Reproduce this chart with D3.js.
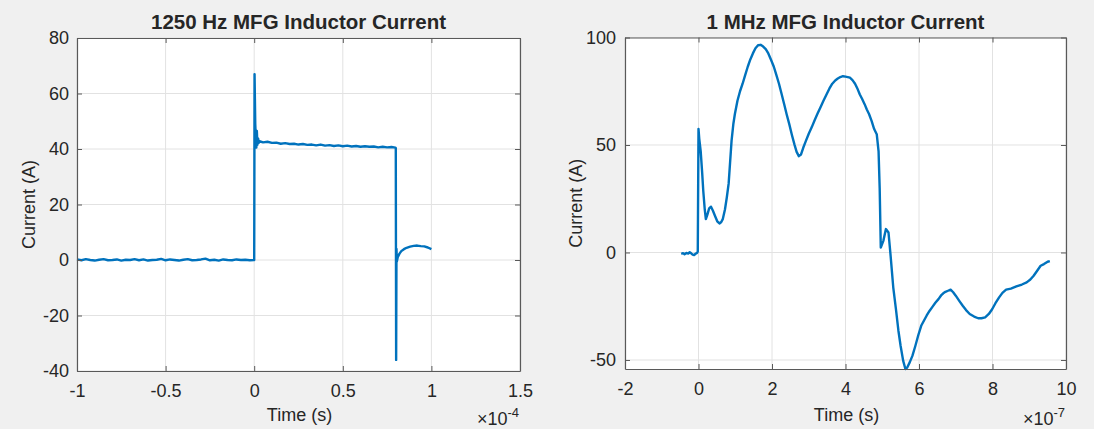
<!DOCTYPE html>
<html>
<head>
<meta charset="utf-8">
<script src="https://cdn.jsdelivr.net/npm/d3@7"></script>
<style>
  html, body { margin: 0; padding: 0; background: #f0f0f0; }
  text { font-family: "Liberation Sans", Arial, sans-serif; fill: #262626; }
</style>
</head>
<body>
<div id="chart"></div>
<script>
// left panel: time in units of 1e-4 s, current in A
const lowTime = [
  -1.000, -0.975, -0.950, -0.925, -0.900, -0.875, -0.850, -0.825, -0.800, -0.775,
  -0.750, -0.725, -0.700, -0.675, -0.650, -0.625, -0.600, -0.575, -0.550, -0.525,
  -0.500, -0.475, -0.450, -0.425, -0.400, -0.375, -0.350, -0.325, -0.300, -0.275,
  -0.250, -0.225, -0.200, -0.175, -0.150, -0.125, -0.100, -0.075, -0.050, -0.025, -0.002,
  0.000, 0.001, 0.002, 0.004, 0.006, 0.009, 0.012, 0.015, 0.018, 0.022, 0.026, 0.030,
  0.050, 0.075, 0.100, 0.125, 0.150, 0.175, 0.200, 0.225, 0.250, 0.275,
  0.300, 0.325, 0.350, 0.375, 0.400, 0.425, 0.450, 0.475, 0.500, 0.525,
  0.550, 0.575, 0.600, 0.625, 0.650, 0.675, 0.700, 0.725, 0.750, 0.775, 0.797,
  0.799, 0.801, 0.803, 0.805, 0.810, 0.820, 0.830, 0.845, 0.860, 0.880,
  0.900, 0.920, 0.940, 0.960, 0.980, 1.000
];
const lowCurrent = [
  0.2, -0.1, 0.3, 0.0, -0.2, 0.1, 0.3, -0.1, 0.0, 0.2,
  -0.2, 0.1, 0.0, 0.3, -0.1, 0.2, -0.2, 0.0, 0.1, 0.4,
  -0.1, 0.2, 0.0, -0.2, 0.1, 0.3, -0.1, 0.0, 0.2, 0.5,
  -0.1, 0.1, -0.2, 0.2, 0.0, -0.1, 0.2, 0.0, 0.1, -0.1, 0.0,
  0.0, 30.0, 67.0, 58.0, 49.0, 44.0, 40.5, 46.5, 41.5, 43.8, 42.2, 42.8,
  42.4, 42.6, 42.2, 42.3, 41.9, 42.1, 41.8, 41.9, 41.6, 41.8,
  41.5, 41.6, 41.3, 41.6, 41.2, 41.4, 41.1, 41.3, 41.0, 41.2,
  40.9, 41.1, 40.8, 41.0, 40.8, 40.9, 40.6, 40.8, 40.6, 40.7, 40.5,
  40.4, -36.0, 4.0, -0.5, 1.0, 2.3, 3.2, 3.9, 4.4, 4.8,
  5.1, 5.2, 5.0, 4.9, 4.5, 3.9
];

// right panel: time in units of 1e-7 s, current in A
const highTime = [
  -0.47, -0.42, -0.38, -0.33, -0.28, -0.24, -0.20, -0.16, -0.12, -0.08, -0.04, -0.02,
  0.00, 0.02, 0.06, 0.10, 0.13, 0.17, 0.20, 0.24, 0.29, 0.34, 0.39, 0.45, 0.51, 0.57,
  0.62, 0.66, 0.72, 0.77, 0.82, 0.86, 0.90, 0.95, 0.99, 1.06, 1.13, 1.20, 1.27, 1.34,
  1.41, 1.48, 1.55, 1.62, 1.69, 1.76, 1.83, 1.90, 1.97, 2.05, 2.12, 2.19, 2.26, 2.33,
  2.40, 2.47, 2.54, 2.61, 2.67, 2.73, 2.79, 2.85, 2.92, 3.00, 3.08, 3.16, 3.24, 3.32,
  3.40, 3.48, 3.56, 3.64, 3.72, 3.79, 3.86, 3.93, 4.00, 4.06, 4.12, 4.19, 4.26, 4.33,
  4.39, 4.45, 4.52, 4.58, 4.64, 4.71, 4.78, 4.85, 4.90, 4.93, 4.96, 5.03, 5.10, 5.17,
  5.23, 5.30, 5.37, 5.44, 5.50, 5.57, 5.63, 5.68, 5.75, 5.82, 5.90, 5.98, 6.06, 6.14,
  6.21, 6.29, 6.37, 6.45, 6.53, 6.60, 6.66, 6.72, 6.79, 6.86, 6.93, 7.00, 7.10, 7.19,
  7.28, 7.38, 7.50, 7.61, 7.70, 7.80, 7.90, 7.99, 8.08, 8.18, 8.27, 8.37, 8.50, 8.65,
  8.80, 8.93, 9.03, 9.12, 9.22, 9.31, 9.40, 9.50, 9.56
];
const highCurrent = [
  -0.6, -0.3, -0.8, -0.2, -0.5, 0.1, -0.4, -1.0, -1.2, -0.6, -0.2, 0.4,
  57.5, 53.0, 47.0, 37.0, 28.6, 20.0, 15.5, 17.5, 20.5, 21.3, 19.5, 17.0, 14.5, 13.5,
  14.2, 15.5, 20.0, 25.6, 32.0, 42.0, 52.0, 60.0, 64.4, 70.6, 75.0, 78.5, 82.5, 86.4,
  89.8, 92.6, 95.0, 96.4, 96.6, 95.8, 94.6, 92.6, 89.8, 86.4, 82.5, 78.5, 73.8, 69.1,
  64.2, 59.7, 54.8, 50.3, 46.8, 44.8, 45.6, 48.7, 51.8, 55.2, 58.2, 61.5, 64.6, 67.6,
  70.6, 73.4, 76.2, 78.5, 80.0, 80.9, 81.6, 82.0, 81.8, 81.6, 81.3, 80.2, 78.5, 76.0,
  73.5, 71.5, 69.0, 66.5, 64.4, 61.2, 57.4, 55.0, 47.0, 30.0, 2.3, 5.4, 10.9, 9.3,
  -2.0, -16.3, -26.0, -36.4, -43.5, -50.4, -54.2, -53.5, -51.0, -48.1, -43.5, -38.5, -34.1, -31.5,
  -29.3, -27.1, -25.2, -23.3, -21.7, -20.0, -19.0, -18.3, -17.8, -17.3, -18.5, -20.1, -22.6, -24.8,
  -26.8, -28.6, -29.8, -30.6, -30.6, -30.2, -28.6, -26.4, -23.6, -20.9, -18.8, -17.3, -16.8, -15.8,
  -14.9, -13.9, -12.6, -10.8, -8.4, -6.2, -5.4, -4.3, -4.0
];

const lowXTicks = [-1, -0.5, 0, 0.5, 1, 1.5];
const lowYTicks = [-40, -20, 0, 20, 40, 60, 80];
const highXTicks = [-2, 0, 2, 4, 6, 8, 10];
const highYTicks = [-50, 0, 50, 100];

const titles = ['1250 Hz MFG Inductor Current', '1 MHz MFG Inductor Current'];
const xLabel = 'Time (s)';
const yLabel = 'Current (A)';
const exponents = ['-4', '-7'];

const W = 1094, H = 429;
const lineColor = '#0072bd';

const svg = d3.select('#chart').append('svg')
  .attr('width', W)
  .attr('height', H);

svg.append('rect').attr('width', W).attr('height', H).attr('fill', '#f0f0f0');

function drawPanel(p) {
  const x = d3.scaleLinear().domain(p.xDomain).range([p.left, p.right]);
  const y = d3.scaleLinear().domain(p.yDomain).range([p.bottom, p.top]);
  const g = svg.append('g');

  g.append('rect')
    .attr('x', p.left).attr('y', p.top)
    .attr('width', p.right - p.left).attr('height', p.bottom - p.top)
    .attr('fill', '#fff');

  // grid
  g.selectAll('.vgrid').data(p.xTicks).enter().append('line')
    .attr('x1', d => x(d)).attr('x2', d => x(d))
    .attr('y1', p.top).attr('y2', p.bottom)
    .attr('stroke', '#e2e2e2').attr('stroke-width', 1);
  g.selectAll('.hgrid').data(p.yTicks).enter().append('line')
    .attr('y1', d => y(d)).attr('y2', d => y(d))
    .attr('x1', p.left).attr('x2', p.right)
    .attr('stroke', '#e2e2e2').attr('stroke-width', 1);

  // the trace
  const pts = p.t.map((t, i) => [t, p.v[i]]);
  g.append('path')
    .datum(pts)
    .attr('fill', 'none')
    .attr('stroke', lineColor)
    .attr('stroke-width', 2.4)
    .attr('stroke-linejoin', 'round')
    .attr('d', d3.line().x(d => x(d[0])).y(d => y(d[1])));

  // axes, ticks inward on all four sides
  const bottomAxis = g.append('g')
    .attr('transform', `translate(0,${p.bottom})`)
    .call(d3.axisBottom(x).tickValues(p.xTicks).tickSizeInner(-5).tickSizeOuter(0)
      .tickPadding(13.5).tickFormat(d => String(d)));
  const leftAxis = g.append('g')
    .attr('transform', `translate(${p.left},0)`)
    .call(d3.axisLeft(y).tickValues(p.yTicks).tickSizeInner(-5).tickSizeOuter(0)
      .tickPadding(p.yPad).tickFormat(d => String(d)));
  const topAxis = g.append('g')
    .attr('transform', `translate(0,${p.top})`)
    .call(d3.axisTop(x).tickValues(p.xTicks).tickSizeInner(-5).tickSizeOuter(0).tickFormat(''));
  const rightAxis = g.append('g')
    .attr('transform', `translate(${p.right},0)`)
    .call(d3.axisRight(y).tickValues(p.yTicks).tickSizeInner(-5).tickSizeOuter(0).tickFormat(''));

  [bottomAxis, leftAxis, topAxis, rightAxis].forEach(a => {
    a.select('.domain').attr('stroke', '#595959').attr('stroke-width', 1.2);
    a.selectAll('.tick line').attr('stroke', '#595959');
    a.selectAll('.tick text')
      .attr('fill', '#262626')
      .style('font-family', '"Liberation Sans", Arial, sans-serif')
      .style('font-size', '18px');
  });

  const cx = (p.left + p.right) / 2;

  g.append('text')
    .attr('x', cx).attr('y', 29)
    .attr('text-anchor', 'middle')
    .style('font-size', '20.5px')
    .style('font-weight', 'bold')
    .text(p.title);

  g.append('text')
    .attr('x', cx + 1).attr('y', 421)
    .attr('text-anchor', 'middle')
    .style('font-size', '18px')
    .text(xLabel);

  g.append('text')
    .attr('transform', `translate(${p.yLabelX},${(p.top + p.bottom) / 2}) rotate(-90)`)
    .attr('text-anchor', 'middle')
    .style('font-size', '18px')
    .text(yLabel);

  const ex = g.append('text')
    .attr('x', p.right - 1).attr('y', p.expY)
    .attr('text-anchor', 'end')
    .style('font-size', '18px');
  ex.append('tspan').text('\u00d710');
  ex.append('tspan').attr('dy', -8).style('font-size', '13px').text(p.exp);
}

drawPanel({
  t: lowTime, v: lowCurrent,
  xDomain: [-1, 1.5], yDomain: [-40, 80],
  xTicks: lowXTicks, yTicks: lowYTicks,
  left: 77, right: 520, top: 38, bottom: 371,
  yPad: 8, yLabelX: 35, expY: 425,
  title: titles[0], exp: exponents[0]
});

drawPanel({
  t: highTime, v: highCurrent,
  xDomain: [-2, 10], yDomain: [-54.2, 100],
  xTicks: highXTicks, yTicks: highYTicks,
  left: 625, right: 1066, top: 37.5, bottom: 369,
  yPad: 9, yLabelX: 582, expY: 425,
  title: titles[1], exp: exponents[1]
});
</script>
</body>
</html>
